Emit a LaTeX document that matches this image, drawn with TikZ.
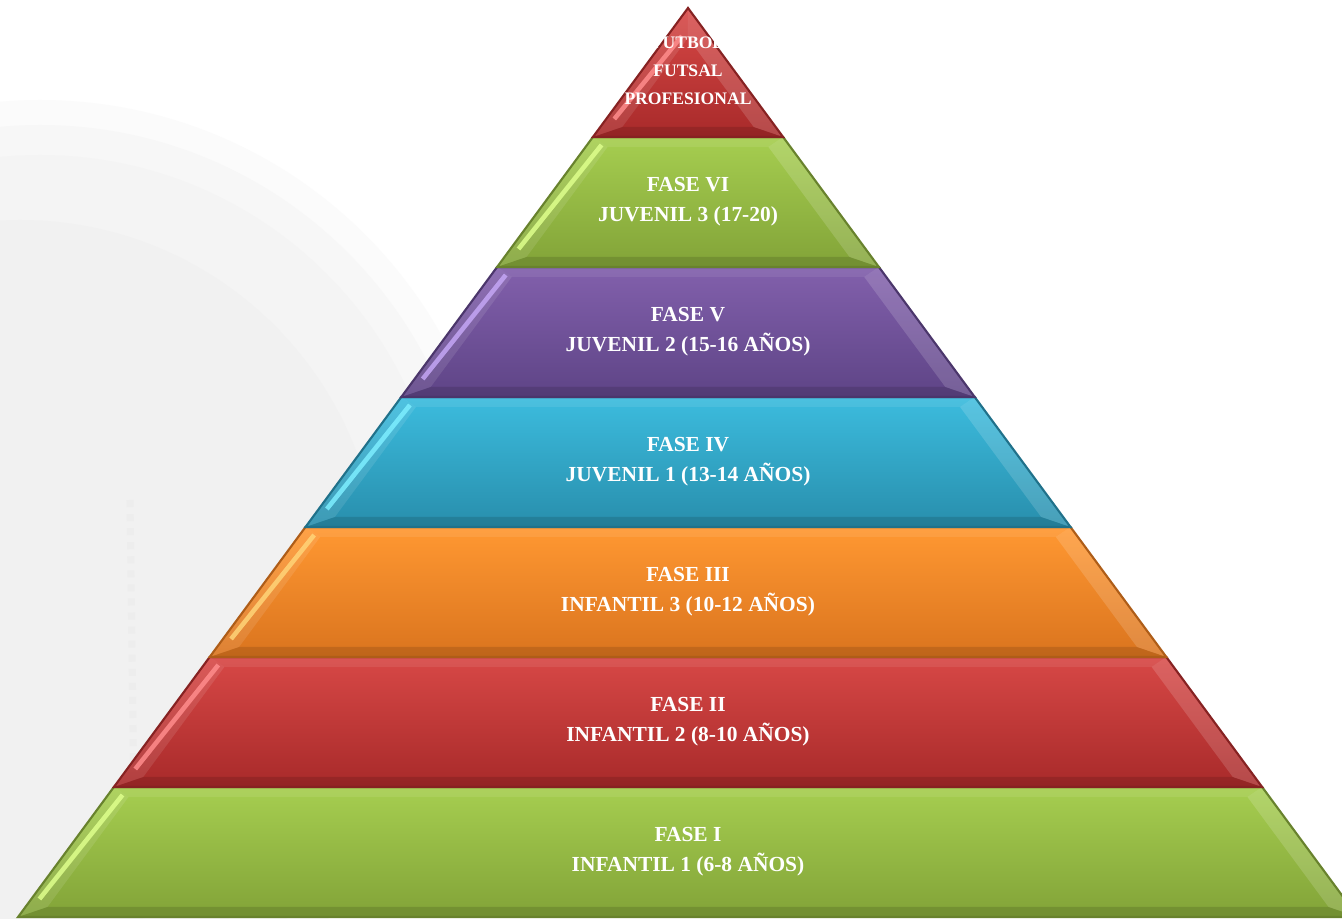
\documentclass[tikz,border=0pt]{standalone}
\usepackage{fontspec}
\setmainfont{Liberation Serif}
\usepackage{tikz}
\usetikzlibrary{calc}
\definecolor{rojoA}{RGB}{215,72,70}
\definecolor{rojoB}{RGB}{168,42,42}
\definecolor{rojoC}{RGB}{255,140,140}
\definecolor{verdeA}{RGB}{166,206,80}
\definecolor{verdeB}{RGB}{130,163,56}
\definecolor{verdeC}{RGB}{222,255,140}
\definecolor{moradoA}{RGB}{130,96,172}
\definecolor{moradoB}{RGB}{94,68,134}
\definecolor{moradoC}{RGB}{196,166,245}
\definecolor{azulA}{RGB}{60,188,222}
\definecolor{azulB}{RGB}{40,142,172}
\definecolor{azulC}{RGB}{125,238,255}
\definecolor{naranjaA}{RGB}{255,152,50}
\definecolor{naranjaB}{RGB}{218,116,30}
\definecolor{naranjaC}{RGB}{255,212,120}
% capa de la piramide: y arriba, y abajo, color arriba, color abajo, brillo
\newcommand{\capa}[5]{%
  \pgfmathsetmacro\xlt{688-(#1-8)*0.737}
  \pgfmathsetmacro\xrt{688+(#1-8)*0.737}
  \pgfmathsetmacro\xlb{688-(#2-8)*0.737}
  \pgfmathsetmacro\xrb{688+(#2-8)*0.737}
  \pgfmathsetmacro\yit{max(#1+10,38)}
  \pgfmathsetmacro\yib{#2-10}
  \pgfmathsetmacro\xilt{688-(\yit-8)*0.737+22}
  \pgfmathsetmacro\xirt{688+(\yit-8)*0.737-22}
  \pgfmathsetmacro\xilb{688-(\yib-8)*0.737+22}
  \pgfmathsetmacro\xirb{688+(\yib-8)*0.737-22}
  \shade[top color=#3, bottom color=#4] (\xlb,#2) -- (\xlt,#1) -- (\xrt,#1) -- (\xrb,#2) -- cycle;
  \fill[white, opacity=0.10] (\xlb,#2) -- (\xlt,#1) -- (\xilt,\yit) -- (\xilb,\yib) -- cycle;
  \fill[white, opacity=0.15] (\xrb,#2) -- (\xrt,#1) -- (\xirt,\yit) -- (\xirb,\yib) -- cycle;
  \fill[white, opacity=0.08] (\xlt,#1) -- (\xrt,#1) -- (\xirt,\yit) -- (\xilt,\yit) -- cycle;
  \fill[black, opacity=0.12] (\xlb,#2) -- (\xrb,#2) -- (\xirb,\yib) -- (\xilb,\yib) -- cycle;
  \draw[#5, opacity=0.85, line width=1.3pt] ($(\xilb,\yib)+(-8,-8)$) -- ($(\xilt,\yit)+(-6,-2)$);
  \draw[#4!80!black, line width=0.6pt] (\xlb,#2) -- (\xlt,#1) -- (\xrt,#1) -- (\xrb,#2) -- cycle;
}

\begin{document}
\begin{tikzpicture}[x=0.01cm, y=-0.01cm,
    texto/.style={text=white, align=center, font=\fontsize{6.1}{8.5}\selectfont\bfseries}]
        \clip (0,0) rectangle (1342,919);
        \fill[white] (0,0) rectangle (1342,919);

        % balon de fondo
        \fill[black!1.5] (40,560) circle (460);
        \fill[black!3] (40,560) circle (435);
        \fill[black!4.5] (40,560) circle (405);
        \fill[black!5.5] (20,580) circle (360);
        \draw[black!7, line width=2pt, dotted] (130,500) -- (135,880);

        % capas
        \capa{787}{917}{verdeA}{verdeB}{verdeC}
        \capa{657}{787}{rojoA}{rojoB}{rojoC}
        \capa{527}{657}{naranjaA}{naranjaB}{naranjaC}
        \capa{397}{527}{azulA}{azulB}{azulC}
        \capa{267}{397}{moradoA}{moradoB}{moradoC}
        \capa{137}{267}{verdeA}{verdeB}{verdeC}
        \capa{8}{137}{rojoA}{rojoB}{rojoC}

        % textos
        \node[texto, font=\fontsize{5}{8}\selectfont\bfseries] (cima) at (688,71) {FUTBOL\\FUTSAL\\PROFESIONAL};
        \node[texto] (fase6) at (688,202) {FASE VI\\JUVENIL 3 (17-20)};
        \node[texto] (fase5) at (688,332) {FASE V\\JUVENIL 2 (15-16 AÑOS)};
        \node[texto] (fase4) at (688,462) {FASE IV\\JUVENIL 1 (13-14 AÑOS)};
        \node[texto] (fase3) at (688,592) {FASE III\\INFANTIL 3 (10-12 AÑOS)};
        \node[texto] (fase2) at (688,722) {FASE II\\INFANTIL 2 (8-10 AÑOS)};
        \node[texto] (fase1) at (688,852) {FASE I\\INFANTIL 1 (6-8 AÑOS)};
    \end{tikzpicture}
\end{document}
